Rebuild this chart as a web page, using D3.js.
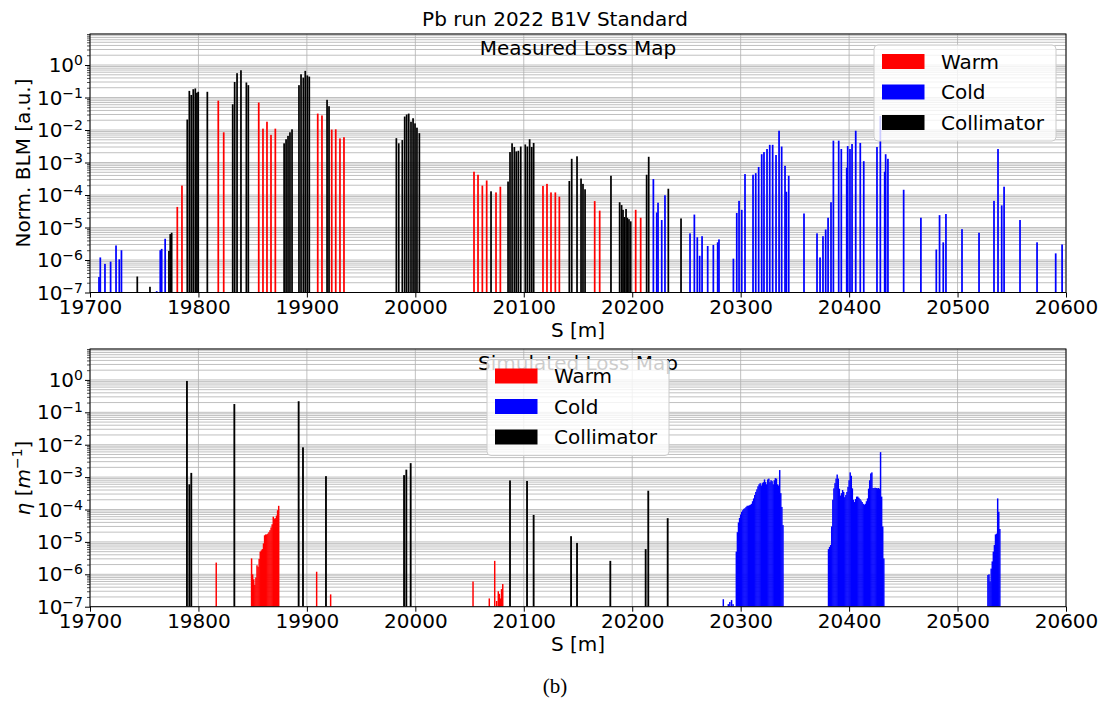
<!DOCTYPE html>
<html>
<head>
<meta charset="utf-8">
<script src="https://cdn.jsdelivr.net/npm/d3@7"></script>
<style>
  body { margin: 0; background: #fff; }
  svg { display: block; font-family: "DejaVu Sans", sans-serif; }
</style>
</head>
<body>
<svg id="chart" width="1110" height="702"></svg>
<script>
// ---- Measured loss map (BLM signal, normalised): [S in m, value] ----
const measuredWarm = [
  [19780.5, 4.3e-5], [19784.8, 1.95e-4], [19818.3, 0.08], [19823.3, 0.0085],
  [19855.6, 0.07], [19859.5, 0.011], [19863.2, 0.018], [19866.9, 0.0071], [19870.9, 0.011],
  [19910.0, 0.032], [19913.9, 0.028], [19922.9, 0.0103], [19926.6, 0.0105], [19930.5, 0.0055], [19934.2, 0.006],
  [20054.1, 5.2e-4], [20057.8, 4.2e-4], [20061.8, 1.95e-4], [20065.8, 2.8e-4], [20074.4, 1.2e-4], [20078.4, 1.8e-4],
  [20117.7, 1.9e-4], [20121.4, 2.2e-4], [20125.1, 1.2e-4], [20129.1, 1.2e-4], [20132.8, 8.9e-5],
  [20165.4, 6.5e-5], [20170.0, 3.3e-5], [20203.2, 3.5e-5], [20207.8, 2.0e-5]
];
const measuredCold = [
  [19708.3, 3e-7], [19709.5, 1.2e-6], [19713.8, 7.6e-7], [19719.0, 8.9e-7], [19724.0, 2.8e-6], [19727.0, 1.05e-6], [19729.0, 2e-6],
  [19761.5, 1.1e-7], [19764.8, 2.0e-6], [19766.1, 2.2e-6], [19769.3, 4.5e-6],
  [20219.5, 3.1e-4], [20222.6, 2.9e-5], [20223.8, 5.8e-5], [20227.2, 1.7e-5], [20230.2, 9.8e-5],
  [20253.3, 6.6e-6], [20257.3, 2.5e-5], [20260.0, 5e-6], [20262.2, 1.35e-6], [20264.4, 5.4e-6], [20269.6, 2.7e-6],
  [20274.8, 2.9e-6], [20278.8, 3.5e-6], [20280.0, 4.3e-6],
  [20293.3, 1.1e-6], [20296.4, 2.8e-5], [20298.5, 6.6e-5], [20301.0, 3.5e-5], [20304.0, 4.4e-4], [20311.4, 4.2e-4],
  [20313.9, 4.7e-4], [20316.6, 7.3e-4], [20319.4, 1.8e-3], [20321.5, 2.1e-3], [20324.3, 2.6e-3], [20326.8, 3.5e-3],
  [20329.5, 3.5e-3], [20332.6, 1.7e-3], [20335.4, 9.5e-3], [20337.8, 3.1e-3], [20340.9, 7.9e-4], [20342.1, 1.26e-4],
  [20344.3, 3.9e-4], [20358.4, 2.7e-5],
  [20370.4, 6.6e-6], [20373.2, 1.2e-6], [20375.9, 5.4e-6], [20378.4, 8.7e-6], [20380.6, 2.0e-5], [20383.3, 6e-5],
  [20385.5, 4.7e-3], [20390.4, 4.7e-3], [20392.8, 2.6e-3], [20397.8, 6.9e-4], [20398.7, 3.2e-3], [20400.8, 2.6e-3],
  [20402.7, 3.7e-3], [20406.1, 9.5e-3], [20410.3, 4e-3], [20413.5, 1.1e-3], [20425.7, 3e-3], [20428.8, 2.7e-2],
  [20432.8, 5.2e-4], [20433.7, 1.8e-3], [20435.8, 1.3e-3],
  [20450.3, 1.45e-4], [20466.2, 2e-5], [20480.4, 2.1e-6], [20483.4, 2.4e-5], [20486.8, 3.5e-6], [20489.3, 2.6e-5],
  [20504.1, 8.9e-6], [20519.8, 6.9e-6], [20533.6, 6.6e-5], [20537.3, 2.6e-3], [20540.7, 4.8e-5], [20542.9, 1.8e-4],
  [20557.6, 1.7e-5], [20573.3, 3.5e-6], [20590.5, 1.6e-6], [20596.4, 3e-6]
];
const measuredCollimator = [
  [19743.6, 3.1e-7], [19755.3, 1.5e-7], [19772.8, 1.9e-6], [19774.0, 6.3e-6], [19775.3, 6.9e-6],
  [19789.7, 0.021], [19791.6, 0.16], [19793.4, 0.12], [19795.2, 0.18], [19797.1, 0.19], [19798.6, 0.14], [19799.8, 0.15],
  [19808.2, 0.15],
  [19831.6, 0.062], [19833.4, 0.30], [19835.6, 0.56], [19839.2, 0.69], [19844.2, 0.29], [19846.0, 0.24],
  [19879.0, 0.0039], [19880.8, 0.0052], [19882.6, 0.0066], [19884.4, 0.0085], [19886.3, 0.0105],
  [19892.7, 0.24], [19894.6, 0.52], [19896.7, 0.41], [19898.5, 0.66], [19900.4, 0.48], [19902.2, 0.44],
  [19918.6, 0.085], [19920.4, 0.054],
  [19982.5, 0.0056], [19984.7, 0.0039], [19988.0, 0.0049], [19990.2, 0.026], [19992.0, 0.030], [19993.9, 0.032],
  [19996.0, 0.018], [19997.9, 0.023], [19999.7, 0.016], [20001.5, 0.0118], [20003.7, 0.008],
  [20069.8, 1.3e-4],
  [20085.5, 2.6e-4], [20087.3, 2.1e-3], [20089.2, 3.9e-3], [20091.3, 3.0e-3], [20093.1, 2.2e-3], [20095.0, 2.3e-3],
  [20097.2, 3.1e-3], [20101.4, 3.6e-3], [20103.3, 3.1e-3], [20105.4, 5.2e-3], [20107.3, 3.0e-3], [20109.1, 4.0e-3],
  [20142.0, 2.7e-4], [20144.2, 1.3e-3], [20149.1, 1.55e-3], [20152.8, 3.2e-4], [20154.6, 2.2e-4], [20156.5, 1.5e-4],
  [20180.4, 3.9e-4],
  [20188.4, 6.0e-5], [20190.2, 4.9e-5], [20191.5, 3.5e-5], [20192.7, 2.1e-5], [20194.3, 3.7e-5], [20195.5, 2.0e-5],
  [20197.0, 1.8e-5], [20198.6, 1.55e-5],
  [20213.3, 4.2e-4], [20215.2, 1.5e-3], [20233.3, 1.56e-4], [20245.0, 1.9e-5]
];

// ---- Simulated loss map (cleaning inefficiency per metre): [S in m, eta] ----
const simulatedWarm = [
  [19816.4, 2.3e-6],
  [19849, 3.1e-6], [19850, 1e-6], [19851, 7e-7], [19852, 4.7e-7], [19853, 8e-7], [19854, 1.9e-6], [19855, 1.7e-6],
  [19856, 3e-6], [19857, 5e-6], [19858, 5.5e-6], [19859, 6e-6], [19860, 9e-6], [19861, 1.6e-5], [19862, 1.7e-5],
  [19863, 1.7e-5], [19864, 1.8e-5], [19865, 2e-5], [19866, 2.3e-5], [19867, 2.8e-5], [19868, 3.5e-5], [19869, 6e-5],
  [19870, 5.2e-5], [19871, 5.4e-5], [19872, 6.5e-5], [19873, 9.5e-5], [19874, 1.3e-4],
  [19909.0, 1.2e-6], [19921.9, 2.4e-7],
  [20053.2, 6e-7], [20068.2, 1.8e-7], [20073.2, 2.6e-6], [20075.0, 1.5e-7], [20076.5, 3e-7], [20077.5, 2.5e-7],
  [20078.5, 1.8e-7], [20079.5, 3.5e-7], [20080.6, 5e-7]
];
const simulatedCold = [
  [20284.0, 1.7e-7], [20288.6, 1.2e-7], [20290.0, 1.4e-7], [20291.6, 1.6e-7], [20293.0, 1.2e-7],
  [20296, 5e-6], [20297, 2e-5], [20298, 4e-5], [20299, 5.5e-5], [20300, 7e-5], [20301, 8.5e-5], [20302, 9.5e-5],
  [20303, 1.05e-4], [20304, 1.1e-4], [20305, 1.2e-4], [20306, 1.3e-4], [20307, 1.3e-4], [20308, 1.35e-4],
  [20309, 1.4e-4], [20310, 1.5e-4], [20311, 1.8e-4], [20312, 2.2e-4], [20313, 2.8e-4], [20314, 3.5e-4],
  [20315, 4.2e-4], [20316, 5.2e-4], [20317, 6e-4], [20318, 6.5e-4], [20319, 5.5e-4], [20320, 6.5e-4],
  [20321, 7e-4], [20322, 8.5e-4], [20323, 7e-4], [20324, 6e-4], [20325, 8.5e-4], [20326, 9e-4], [20327, 7e-4],
  [20328, 8e-4], [20329, 7.5e-4], [20330, 6e-4], [20331, 8e-4], [20332, 9.3e-4], [20333, 9e-4], [20334, 6e-4],
  [20335, 5.5e-4], [20336, 1.65e-3], [20337, 3.2e-4], [20338, 1.2e-4], [20339, 3.3e-5],
  [20381, 6e-6], [20382, 7e-6], [20383, 8e-6], [20384, 3e-5], [20385, 2e-4], [20386, 4.5e-4], [20387, 6.5e-4],
  [20388, 9e-4], [20389, 1.2e-3], [20390, 9e-4], [20391, 4.4e-4], [20392, 2.7e-4], [20393, 3.2e-4], [20394, 4e-4],
  [20395, 3.5e-4], [20396, 2.4e-4], [20397, 2.8e-4], [20398, 3.5e-4], [20399, 5e-4], [20400, 8e-4], [20401, 1.4e-3],
  [20402, 1.1e-3], [20403, 4.5e-4], [20404, 2e-4], [20405, 1.7e-4], [20406, 2.1e-4], [20407, 2.5e-4], [20408, 2.5e-4],
  [20409, 2.3e-4], [20410, 2.1e-4], [20411, 1.9e-4], [20412, 1.7e-4], [20413, 1.5e-4], [20414, 1.4e-4], [20415, 1.5e-4],
  [20416, 1.8e-4], [20417, 2.2e-4], [20418, 4.4e-4], [20419, 8e-4], [20420, 1.3e-3], [20421, 1.4e-3], [20422, 4.6e-4],
  [20423, 4.6e-4], [20424, 4.7e-4], [20425, 4.6e-4], [20426, 4.5e-4], [20427, 4.6e-4], [20428, 4.4e-4], [20429, 5.9e-3],
  [20430, 2.5e-4], [20431, 3e-5], [20432, 3.1e-6],
  [20528, 9.5e-7], [20529, 1e-6], [20530, 6e-7], [20531, 1.5e-6], [20532, 2.5e-6], [20533, 5e-6], [20534, 8e-6],
  [20535, 1.7e-5], [20536, 1.8e-5], [20537, 2.2e-4], [20538, 8.5e-5], [20539, 2.5e-5]
];
const simulatedCollimator = [
  [19789.4, 0.93], [19791.6, 6e-4], [19793.4, 1.35e-3], [19833.1, 0.18], [19892.4, 0.22], [19896.4, 8.3e-3],
  [19917.6, 1.07e-3], [19989.6, 1.15e-3], [19991.7, 1.7e-3], [19995.7, 2.7e-3], [20087.3, 7.9e-4], [20103.0, 7.6e-4],
  [20109.1, 6.8e-5], [20143.6, 1.5e-5], [20149.1, 9.3e-6], [20179.8, 2.6e-6], [20212.4, 6e-6], [20214.8, 3.8e-4],
  [20232.7, 5.4e-5]
];

const xTicks = [19700, 19800, 19900, 20000, 20100, 20200, 20300, 20400, 20500, 20600];
const yExponents = [-7, -6, -5, -4, -3, -2, -1, 0];
const legendLabels = ["Warm", "Cold", "Collimator"];
const seriesColors = { Warm: "#ff0000", Cold: "#0000ff", Collimator: "#000000" };

// ---- layout ----
const svg = d3.select("#chart");
svg.append("rect").attr("width", 1110).attr("height", 702).attr("fill", "#fff");

const plotLeft = 90, plotRight = 1066;
const yMax = 9, yMin = 1e-7;
const x = d3.scaleLinear().domain([19700, 20600]).range([plotLeft, plotRight]);

function minorValues() {
  const out = [];
  for (let e = -7; e <= 0; e++) for (let k = 2; k <= 9; k++) {
    const v = k * Math.pow(10, e);
    if (v <= yMax) out.push(v);
  }
  return out;
}

function drawPanel(opts) {
  const { top, bottom, id, title, series, legendPos } = opts;
  const g = svg.append("g");
  const y = d3.scaleLog().domain([yMin, yMax]).range([bottom, top]);

  // grid (drawn below the bars)
  const grid = g.append("g").attr("stroke", "#b0b0b0").attr("stroke-width", 0.8);
  minorValues().concat(yExponents.map(e => Math.pow(10, e))).forEach(v => {
    grid.append("line").attr("x1", plotLeft).attr("x2", plotRight)
      .attr("y1", y(v)).attr("y2", y(v));
  });
  xTicks.forEach(t => {
    grid.append("line").attr("x1", x(t)).attr("x2", x(t)).attr("y1", top).attr("y2", bottom);
  });

  // bars
  g.append("clipPath").attr("id", "clip-" + id).append("rect")
    .attr("x", plotLeft).attr("y", top).attr("width", plotRight - plotLeft).attr("height", bottom - top);
  const bars = g.append("g").attr("clip-path", `url(#clip-${id})`);
  series.forEach(s => {
    bars.append("g").attr("fill", seriesColors[s.name])
      .selectAll("rect").data(s.data.filter(d => d[1] > yMin)).join("rect")
      .attr("x", d => x(d[0] - s.width / 2))
      .attr("width", d => x(d[0] + s.width / 2) - x(d[0] - s.width / 2))
      .attr("y", d => y(d[1]))
      .attr("height", d => bottom - y(d[1]));
  });

  // panel title inside the axes
  g.append("text").attr("x", (plotLeft + plotRight) / 2).attr("y", top + 21)
    .attr("text-anchor", "middle").attr("font-size", 20).text(title);

  // x axis
  const xAxis = g.append("g").attr("transform", `translate(0,${bottom})`)
    .call(d3.axisBottom(x).tickValues(xTicks).tickFormat(d3.format("d")).tickSize(5).tickPadding(2));
  xAxis.select(".domain").remove();
  xAxis.selectAll("text").attr("font-size", 20).attr("font-family", "DejaVu Sans").attr("fill", "#000");
  xAxis.selectAll("line").attr("stroke", "#000").attr("stroke-width", 1);

  // y axis: major and minor ticks
  const yMajor = g.append("g").attr("transform", `translate(${plotLeft},0)`)
    .call(d3.axisLeft(y).tickValues(yExponents.map(e => Math.pow(10, e))).tickFormat("").tickSize(5));
  yMajor.select(".domain").remove();
  yMajor.selectAll("line").attr("stroke", "#000").attr("stroke-width", 1);
  const yMinor = g.append("g").attr("transform", `translate(${plotLeft},0)`)
    .call(d3.axisLeft(y).tickValues(minorValues()).tickFormat("").tickSize(3));
  yMinor.select(".domain").remove();
  yMinor.selectAll("line").attr("stroke", "#000").attr("stroke-width", 0.7);

  yExponents.forEach(e => {
    const t = g.append("text").attr("x", 83).attr("y", y(Math.pow(10, e)) + 7)
      .attr("text-anchor", "end").attr("font-size", 20);
    t.append("tspan").text("10");
    t.append("tspan").attr("font-size", 14).attr("dy", -7)
      .text(e < 0 ? "\u2212" + Math.abs(e) : String(e));
  });

  // frame
  g.append("rect").attr("x", plotLeft).attr("y", top)
    .attr("width", plotRight - plotLeft).attr("height", bottom - top)
    .attr("fill", "none").attr("stroke", "#000").attr("stroke-width", 1);

  // x label
  g.append("text").attr("x", (plotLeft + plotRight) / 2).attr("y", bottom + 44)
    .attr("text-anchor", "middle").attr("font-size", 20).text("S [m]");

  // legend
  const lg = g.append("g").attr("transform", `translate(${legendPos[0]},${legendPos[1]})`);
  lg.append("rect").attr("width", 182).attr("height", 96).attr("rx", 4)
    .attr("fill", "#fff").attr("fill-opacity", 0.8).attr("stroke", "#cccccc").attr("stroke-width", 1);
  legendLabels.forEach((name, i) => {
    lg.append("rect").attr("x", 8).attr("y", 9 + i * 30.5).attr("width", 42.5).attr("height", 15)
      .attr("fill", seriesColors[name]);
    lg.append("text").attr("x", 67).attr("y", 23.5 + i * 30.5).attr("font-size", 20).text(name);
  });
  return { g, y };
}

// figure title
svg.append("text").attr("x", 555).attr("y", 26).attr("text-anchor", "middle")
  .attr("font-size", 20).text("Pb run 2022 B1V Standard");

drawPanel({
  id: "measured", top: 34, bottom: 292.5, title: "Measured Loss Map",
  legendPos: [874, 45],
  series: [
    { name: "Warm", data: measuredWarm, width: 1.6 },
    { name: "Cold", data: measuredCold, width: 1.6 },
    { name: "Collimator", data: measuredCollimator, width: 1.6 }
  ]
});

drawPanel({
  id: "simulated", top: 349, bottom: 606.7, title: "Simulated Loss Map",
  legendPos: [(plotLeft + plotRight) / 2 - 91, 359.5],
  series: [
    { name: "Warm", data: simulatedWarm, width: 1.35 },
    { name: "Cold", data: simulatedCold, width: 1.35 },
    { name: "Collimator", data: simulatedCollimator, width: 1.7 }
  ]
});

// y labels
svg.append("text").attr("transform", "translate(30,163) rotate(-90)")
  .attr("text-anchor", "middle").attr("font-size", 20).text("Norm. BLM [a.u.]");
const eta = svg.append("text").attr("transform", "translate(30,478) rotate(-90)")
  .attr("text-anchor", "middle").attr("font-size", 20);
eta.append("tspan").attr("font-style", "italic").text("\u03b7");
eta.append("tspan").text(" [");
eta.append("tspan").attr("font-style", "italic").text("m");
eta.append("tspan").attr("font-size", 14).attr("dy", -8).text("\u22121");
eta.append("tspan").attr("dy", 8).text("]");

// caption
svg.append("text").attr("x", 555).attr("y", 693).attr("text-anchor", "middle")
  .attr("font-family", "Liberation Serif, serif").attr("font-size", 21).text("(b)");
</script>
</body>
</html>
